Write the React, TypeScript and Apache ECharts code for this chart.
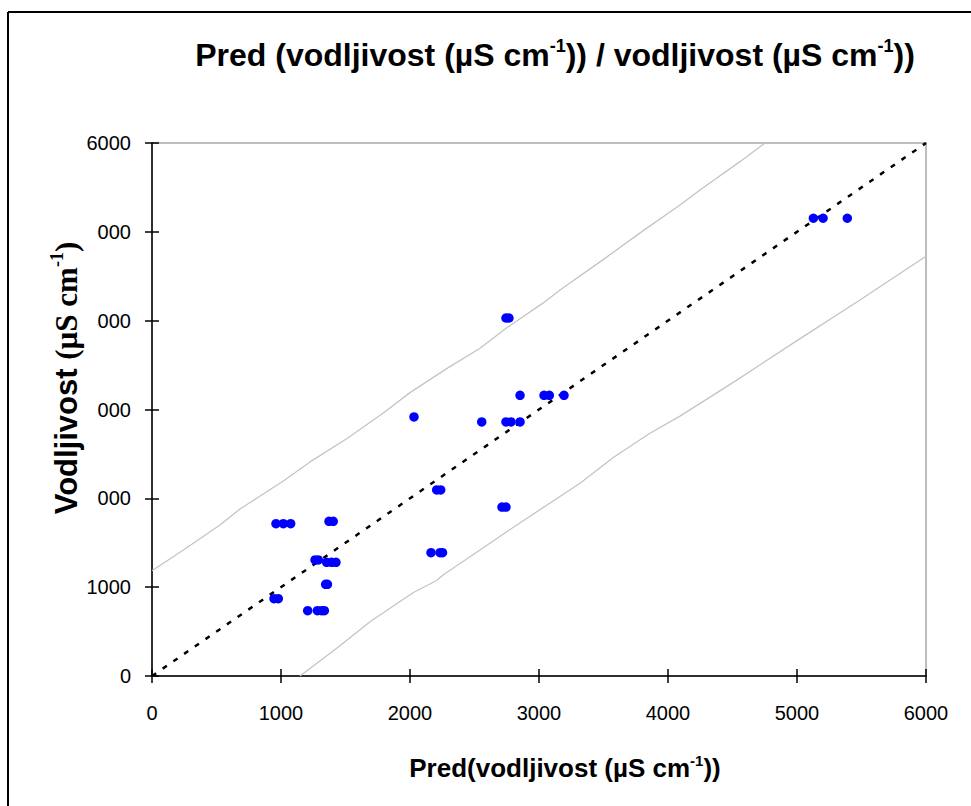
import React, { useEffect, useRef } from "react";
import * as echarts from "echarts";

// Axis settings (values)
const axisMin = 0;
const axisMax = 6000;
const axisStep = 1000;

// Scatter points: predicted (x) vs observed (y)
const predicted = [
  5127, 5202, 5390,
  2744, 2767,
  2031,
  2853, 3039, 3080, 3194,
  2556, 2744, 2783, 2853,
  2207, 2238,
  2713, 2744,
  961, 1018, 1075,
  1372, 1405,
  1264, 1289,
  1354, 1393, 1426,
  1346, 1360,
  946, 979,
  1207, 1282, 1315, 1336,
  2163, 2233, 2252,
];
const observed = [
  5153, 5153, 5153,
  4030, 4030,
  2916,
  3160, 3160, 3160, 3160,
  2860, 2860, 2860, 2860,
  2094, 2094,
  1902, 1902,
  1715, 1715, 1715,
  1741, 1741,
  1306, 1306,
  1280, 1280, 1280,
  1032, 1032,
  870, 870,
  735, 735, 735, 735,
  1388, 1388, 1388,
];

// Upper prediction bound (grey)
const upperX = [0, 243, 527, 682, 1018, 1225, 1509, 1793, 2000, 2284, 2543, 2750, 3033, 3163, 3500, 3800, 4093, 4248, 4558, 4752];
const upperY = [1185, 1418, 1700, 1880, 2195, 2410, 2670, 2960, 3190, 3460, 3690, 3920, 4200, 4345, 4690, 5005, 5302, 5471, 5790, 6000];

// Lower prediction bound (grey)
const lowerX = [1147, 1432, 1690, 2026, 2207, 2258, 2543, 2775, 3318, 3576, 3860, 4093, 4500, 5000, 5488, 6000];
const lowerY = [0, 312, 611, 940, 1075, 1140, 1418, 1650, 2169, 2460, 2732, 2925, 3300, 3775, 4233, 4725];

// 1:1 line
const identityX = [0, 6000];
const identityY = [0, 6000];

const SANS = "'Liberation Sans', Arial, Helvetica, sans-serif";
const SERIF = "'Liberation Serif', 'Times New Roman', serif";

const zip = (a: number[], b: number[]) => a.map((v, i) => [v, b[i]]);

export default function App() {
  const ref = useRef<HTMLDivElement>(null);

  useEffect(() => {
    if (!ref.current) return;
    const chart = echarts.init(ref.current, null, { renderer: "svg" });

    const baseAxis = {
      type: "value" as const,
      min: axisMin,
      max: axisMax,
      interval: axisStep,
      splitLine: { show: false },
    };
    const fmt = (v: number) => String(v);

    const option: any = {
      animation: false,
      backgroundColor: "#ffffff",
      grid: {
        left: 152,
        right: 45,
        top: 143,
        bottom: 130,
        show: true,
        borderColor: "#a8a8a8",
        borderWidth: 1.5,
        backgroundColor: "transparent",
      },
      xAxis: [
        {
          ...baseAxis,
          position: "bottom",
          axisLine: { show: true, lineStyle: { color: "#000", width: 1.5 } },
          axisTick: { show: true, inside: false, length: 7, lineStyle: { color: "#000", width: 1.5 } },
          axisLabel: { color: "#000", fontSize: 20, fontFamily: SANS, margin: 27, formatter: fmt },
        },
        {
          ...baseAxis,
          position: "bottom",
          axisLine: { show: false },
          axisTick: { show: true, inside: true, length: 7, lineStyle: { color: "#000", width: 1.5 } },
          axisLabel: { show: false },
        },
      ],
      yAxis: [
        {
          ...baseAxis,
          position: "left",
          axisLine: { show: true, lineStyle: { color: "#000", width: 1.5 } },
          axisTick: { show: true, inside: false, length: 7, lineStyle: { color: "#000", width: 1.5 } },
          axisLabel: { color: "#000", fontSize: 20, fontFamily: SANS, margin: 21, formatter: fmt },
        },
        {
          ...baseAxis,
          position: "left",
          axisLine: { show: false },
          axisTick: { show: true, inside: true, length: 7, lineStyle: { color: "#000", width: 1.5 } },
          axisLabel: { show: false },
        },
      ],
      series: [
        {
          type: "line",
          data: zip(upperX, upperY),
          symbol: "none",
          silent: true,
          lineStyle: { color: "#c4c4c4", width: 1.3 },
          z: 1,
        },
        {
          type: "line",
          data: zip(lowerX, lowerY),
          symbol: "none",
          silent: true,
          lineStyle: { color: "#c4c4c4", width: 1.3 },
          z: 1,
        },
        {
          type: "line",
          data: zip(identityX, identityY),
          symbol: "none",
          silent: true,
          lineStyle: { color: "#000", width: 2.5, type: [5, 8] },
          z: 2,
        },
        {
          type: "scatter",
          data: zip(predicted, observed),
          symbol: "circle",
          symbolSize: 9.5,
          itemStyle: { color: "#0000ff", opacity: 1 },
          z: 3,
        },
      ],
      graphic: [
        // outer frame (left and top edges)
        {
          type: "line",
          z: 50,
          shape: { x1: 8, y1: 12, x2: 980, y2: 12 },
          style: { stroke: "#000", lineWidth: 2 },
        },
        {
          type: "line",
          z: 50,
          shape: { x1: 8, y1: 12, x2: 8, y2: 820 },
          style: { stroke: "#000", lineWidth: 2 },
        },
        // main title
        {
          type: "text",
          z: 50,
          x: 555,
          y: 55,
          style: {
            text: "{t|Pred (vodljivost (µS cm}{s|-1}{t|)) / vodljivost (µS cm}{s|-1}{t|))}",
            align: "center",
            verticalAlign: "middle",
            textAlign: "center",
            textVerticalAlign: "middle",
            rich: {
              t: { fontFamily: SANS, fontWeight: "bold", fontSize: 32, fill: "#000", color: "#000", lineHeight: 36 },
              s: { fontFamily: SANS, fontWeight: "bold", fontSize: 18, fill: "#000", color: "#000", lineHeight: 18, verticalAlign: "top" },
            },
          },
        },
        // x axis title
        {
          type: "text",
          z: 50,
          x: 565,
          y: 768,
          style: {
            text: "{t|Pred(vodljivost (µS cm}{s|-1}{t|))}",
            align: "center",
            verticalAlign: "middle",
            textAlign: "center",
            textVerticalAlign: "middle",
            rich: {
              t: { fontFamily: SANS, fontWeight: "bold", fontSize: 26, fill: "#000", color: "#000", lineHeight: 30 },
              s: { fontFamily: SANS, fontWeight: "bold", fontSize: 15, fill: "#000", color: "#000", lineHeight: 15, verticalAlign: "top" },
            },
          },
        },
        // white box behind y axis title (hides leading digits, as in the original)
        {
          type: "rect",
          z: 60,
          shape: { x: 38, y: 212, width: 59, height: 305 },
          style: { fill: "#ffffff" },
        },
        // y axis title
        {
          type: "text",
          z: 61,
          x: 66,
          y: 378,
          rotation: Math.PI / 2,
          style: {
            text: "{a|Vodljivost }{b|(µS cm}{s|-1}{b|)}",
            align: "center",
            verticalAlign: "middle",
            textAlign: "center",
            textVerticalAlign: "middle",
            rich: {
              a: { fontFamily: SANS, fontWeight: "bold", fontSize: 31, fill: "#000", color: "#000", lineHeight: 36 },
              b: { fontFamily: SERIF, fontWeight: "bold", fontSize: 31, fill: "#000", color: "#000", lineHeight: 36 },
              s: { fontFamily: SERIF, fontWeight: "bold", fontSize: 18, fill: "#000", color: "#000", lineHeight: 18, verticalAlign: "top" },
            },
          },
        },
      ],
    };

    chart.setOption(option);
    return () => chart.dispose();
  }, []);

  return (
    <div
      ref={ref}
      style={{ position: "fixed", left: 0, top: 0, width: 971, height: 806, background: "#fff" }}
    />
  );
}
